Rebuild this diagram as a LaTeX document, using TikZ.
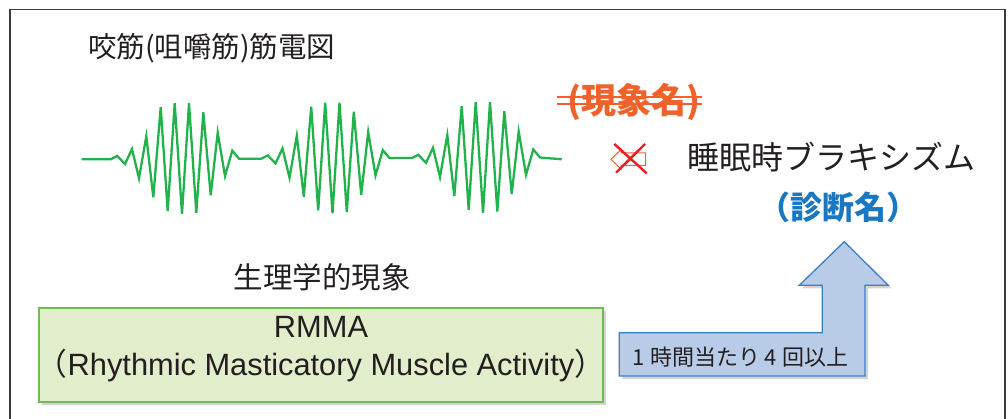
\documentclass[tikz,border=0pt]{standalone}
\usepackage{fontspec}
\setmainfont{Liberation Sans}
\newfontfamily\jp{Noto Sans CJK JP}
\usetikzlibrary{shadows}
\definecolor{txt}{HTML}{231F20}
\definecolor{wave}{HTML}{22B24C}
\definecolor{orng}{HTML}{F0622A}
\definecolor{diagblue}{HTML}{1A78C2}
\definecolor{boxfill}{HTML}{E2EDCB}
\definecolor{boxline}{HTML}{6DBE52}
\definecolor{arrfill}{HTML}{B8CCE8}
\definecolor{arrline}{HTML}{3A80C4}
\definecolor{xred}{HTML}{EC1C24}
\definecolor{frame}{HTML}{3C3C3C}
\tikzset{
  lbl/.style={inner sep=0pt, text=txt},
  greenbox/.style={draw=boxline, line width=1.3pt, fill=boxfill, minimum width=564pt, minimum height=94pt, inner sep=0pt,
    drop shadow={shadow xshift=3pt, shadow yshift=-3pt, opacity=0.35, fill=gray}},
  bluearrow/.style={draw=arrline, line width=1.3pt, fill=arrfill, line join=miter,
    drop shadow={shadow xshift=3pt, shadow yshift=-3pt, opacity=0.35, fill=gray}},
  wavestyle/.style={draw=wave, line width=2.3pt, line join=miter},
}
\newcommand{\burst}[1]{%
  -- ++(#1+0,0) coordinate (b0)
  -- ([shift={(6.6,-3.3)}]b0) -- ([shift={(14.3,4.7)}]b0) -- ([shift={(21.3,-10.3)}]b0)
  -- ([shift={(28.3,19)}]b0) -- ([shift={(35.6,-23)}]b0) -- ([shift={(42.6,38)}]b0)
  -- ([shift={(50,-52)}]b0) -- ([shift={(57,51.7)}]b0) -- ([shift={(64,-56)}]b0)
  -- ([shift={(71.3,54.7)}]b0) -- ([shift={(78.3,-56)}]b0) -- ([shift={(85.6,53.4)}]b0)
  -- ([shift={(92.6,-47)}]b0) -- ([shift={(100,36)}]b0) -- ([shift={(107,-26.6)}]b0)
  -- ([shift={(114.3,16.7)}]b0) -- ([shift={(121.6,-8.6)}]b0) -- ([shift={(128.3,-0.6)}]b0)
}
\begin{document}
\begin{tikzpicture}[x=1pt,y=-1pt]
\useasboundingbox (0,0) rectangle (1008,419);
\clip (0,0) rectangle (1008,419);
% outer frame
\draw[frame, line width=1.2pt] (10,9.5) rectangle (1005,440);

% title
\node[lbl, anchor=west] (title) at (88,48.5) {\jp\fontsize{28.5}{30}\selectfont 咬筋(咀嚼筋)筋電図};

% waveform
\coordinate (w0) at (81.7,159.3);
\coordinate (w1) at (561.7,159.3);
\draw[wavestyle] (w0) \burst{29} -- ++(22.2,0) \burst{0} -- ++(22.2,0) \burst{0} -- (w1);

% struck-out phenomenon name
\node[lbl, text=orng, font=\jp\bfseries\fontsize{35}{38}\selectfont] (phen) at (634,102) {(現象名)};
\draw[orng, line width=1.8pt] (557,97.3) -- (702,97.3);
\draw[orng, line width=1.8pt] (557,104.3) -- (702,104.3);

% crossed-out left arrow
\draw[orng, line width=1pt, line join=miter] (611,159.3) -- (621,149.5) -- (621,153) -- (645.5,153) -- (645.5,165.5) -- (621,165.5) -- (621,169) -- cycle;
\draw[xred, line width=2.4pt] (614.3,144) -- (646.7,173.3);
\draw[xred, line width=2.4pt] (645,144) -- (616,172.7);

% diagnosis
\node[lbl] (diag) at (831.5,157.5) {\jp\fontsize{32}{36}\selectfont 睡眠時ブラキシズム};
\node[lbl, text=diagblue] (diagn) at (838.5,207.5) {\jp\bfseries\fontsize{32}{36}\selectfont （診断名）};

% physiological phenomenon
\node[lbl] (phys) at (322,277) {\jp\fontsize{29.5}{32}\selectfont 生理学的現象};

% RMMA box
\node[greenbox] (rmma) at (321,355) {};
\node[lbl, align=center, font=\fontsize{30.8}{38}\selectfont] (rmmat) at (321,349.5)
  {RMMA\\{\jp （}Rhythmic Masticatory Muscle Activity{\jp ）}};

% bent block arrow
\draw[bluearrow] (619.3,332.7) -- (822.3,332.7) -- (822.3,285.3) -- (799.3,285.3) -- (844.3,241.7)
  -- (888.3,285.3) -- (865,285.3) -- (865,376) -- (619.3,376) -- cycle;
\node[lbl] (freq) at (740.5,356.7) {\jp\fontsize{22}{26}\selectfont 1 時間当たり 4 回以上};
\end{tikzpicture}
\end{document}
